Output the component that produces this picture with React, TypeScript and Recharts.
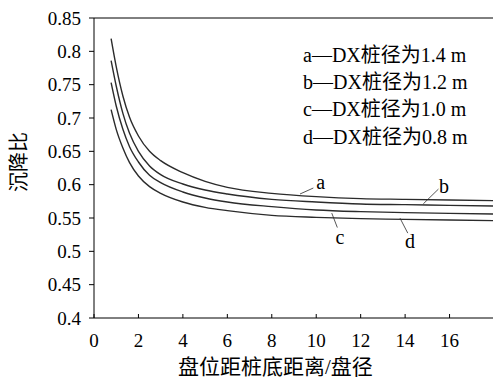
import { LineChart, Line, XAxis, YAxis, ReferenceLine, ReferenceDot } from "recharts"

// distance of disc from pile bottom / disc diameter
const xs = [0.77, 1.0, 1.3, 1.6, 2.0, 2.5, 3.0, 4.0, 5.0, 6.0, 8.0, 10.0, 12.0, 14.0, 16.0, 18.0]

// settlement ratio for each DX pile diameter
const seriesA = [0.819, 0.777, 0.733, 0.701, 0.673, 0.650, 0.636, 0.618, 0.605, 0.596, 0.587, 0.582, 0.579, 0.578, 0.577, 0.576]
const seriesB = [0.786, 0.748, 0.707, 0.677, 0.650, 0.628, 0.615, 0.601, 0.592, 0.586, 0.578, 0.574, 0.571, 0.570, 0.569, 0.568]
const seriesC = [0.753, 0.718, 0.683, 0.657, 0.634, 0.614, 0.603, 0.589, 0.580, 0.574, 0.567, 0.562, 0.5595, 0.558, 0.557, 0.556]
const seriesD = [0.7125, 0.683, 0.655, 0.633, 0.613, 0.597, 0.587, 0.574, 0.566, 0.561, 0.554, 0.551, 0.549, 0.548, 0.547, 0.546]

const xTicks = [0, 2, 4, 6, 8, 10, 12, 14, 16]
const yTicks = [0.4, 0.45, 0.5, 0.55, 0.6, 0.65, 0.7, 0.75, 0.8, 0.85]

const legendLines = ["a—DX桩径为1.4 m", "b—DX桩径为1.2 m", "c—DX桩径为1.0 m", "d—DX桩径为0.8 m"]

// curve tags: leader line start, leader line end, text position
const tags = [
  { name: "a", from: [9.27, 0.586], to: [9.87, 0.595], text: [10.2, 0.604] },
  { name: "b", from: [14.82, 0.5713], to: [15.5, 0.5934], text: [15.75, 0.598] },
  { name: "c", from: [10.7, 0.5573], to: [10.95, 0.5357], text: [11.07, 0.522] },
  { name: "d", from: [13.77, 0.5498], to: [14.12, 0.5273], text: [14.22, 0.516] },
]

const data = xs.map((x, i) => ({ x, a: seriesA[i], b: seriesB[i], c: seriesC[i], d: seriesD[i] }))

const FONT = '"Liberation Serif", Tinos, "Times New Roman", Times, "DejaVu Serif", "Noto Sans CJK SC", serif'
const INK = "#2b2b2b"

export default function App() {
  return (
    <div style={{ position: "absolute", left: 0, top: 0, width: 493, height: 379, overflow: "hidden", background: "#fff", fontFamily: FONT }}>
      <LineChart width={494} height={379} data={data} margin={{ top: 18, right: 0, bottom: 21, left: 14 }}>
        <XAxis
          dataKey="x"
          type="number"
          domain={[0, 18]}
          ticks={xTicks}
          allowDataOverflow
          stroke="#000"
          tickSize={-4}
          tickMargin={20}
          height={40}
          tick={{ fill: "#000", fontSize: 19, fontFamily: FONT }}
        />
        <YAxis
          type="number"
          domain={[0.4, 0.85]}
          ticks={yTicks}
          allowDataOverflow
          width={80}
          stroke="#000"
          tickSize={5}
          tickMargin={8}
          tick={{ fill: "#000", fontSize: 19, fontFamily: FONT }}
        />
        <ReferenceLine y={0.85} stroke="#000" />
        <Line dataKey="a" type="monotone" stroke={INK} strokeWidth={1.4} dot={false} isAnimationActive={false} />
        <Line dataKey="b" type="monotone" stroke={INK} strokeWidth={1.4} dot={false} isAnimationActive={false} />
        <Line dataKey="c" type="monotone" stroke={INK} strokeWidth={1.4} dot={false} isAnimationActive={false} />
        <Line dataKey="d" type="monotone" stroke={INK} strokeWidth={1.4} dot={false} isAnimationActive={false} />
        {tags.map((t) => (
          <ReferenceLine
            key={"l" + t.name}
            segment={[{ x: t.from[0], y: t.from[1] }, { x: t.to[0], y: t.to[1] }]}
            stroke={INK}
            strokeWidth={0.8}
          />
        ))}
        {tags.map((t) => (
          <ReferenceDot
            key={"t" + t.name}
            x={t.text[0]}
            y={t.text[1]}
            r={0}
            fill="none"
            stroke="none"
            label={{ value: t.name, position: "center", fill: "#000", fontSize: 20, fontFamily: FONT }}
          />
        ))}
      </LineChart>

      <div style={{ position: "absolute", left: 303, top: 42, fontSize: 20, lineHeight: "27.2px", color: "#000", whiteSpace: "nowrap" }}>
        {legendLines.map((s) => (
          <div key={s}>{s}</div>
        ))}
      </div>

      <div style={{ position: "absolute", left: 178, top: 357, height: 21, lineHeight: "21px", fontSize: 21, color: "#000", whiteSpace: "nowrap" }}>
        盘位距桩底距离/盘径
      </div>

      <div style={{ position: "absolute", left: 19, top: 162, lineHeight: 1, transform: "translate(-50%, -50%) rotate(-90deg)", fontSize: 20, color: "#000", whiteSpace: "nowrap" }}>
        沉降比
      </div>
    </div>
  )
}
